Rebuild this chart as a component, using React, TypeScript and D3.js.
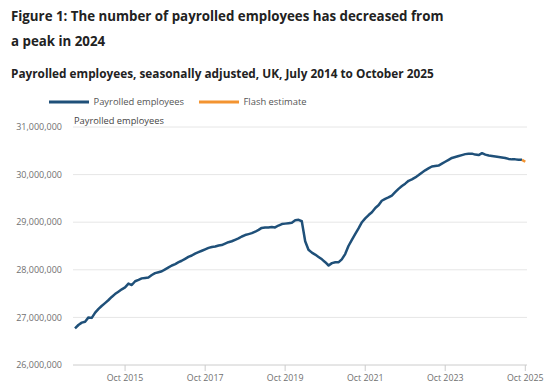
import React, { useEffect, useRef } from 'react'
import * as d3 from 'd3'

// monthly, July 2014 to October 2025 (millions)
const startMonth = new Date(2014, 6, 1)
const payrolled: number[] = [
  26.77, 26.84, 26.89, 26.91, 27.0, 26.99, // Jul-Dec 2014
  27.1, 27.18, 27.24, 27.3, 27.36, 27.43, 27.49, 27.54, 27.59, 27.63, 27.71, 27.68, // 2015
  27.76, 27.79, 27.82, 27.83, 27.84, 27.89, 27.93, 27.95, 27.97, 28.01, 28.05, 28.09, // 2016
  28.12, 28.16, 28.19, 28.23, 28.27, 28.3, 28.34, 28.37, 28.4, 28.43, 28.46, 28.48, // 2017
  28.49, 28.51, 28.52, 28.55, 28.58, 28.6, 28.63, 28.66, 28.7, 28.73, 28.75, 28.77, // 2018
  28.8, 28.84, 28.88, 28.89, 28.89, 28.9, 28.89, 28.93, 28.96, 28.97, 28.98, 28.99, // 2019
  29.04, 29.05, 29.02, 28.6, 28.42, 28.36, 28.32, 28.27, 28.22, 28.16, 28.09, 28.14, // 2020
  28.16, 28.16, 28.22, 28.33, 28.5, 28.63, 28.75, 28.87, 29.0, 29.08, 29.15, 29.21, // 2021
  29.3, 29.36, 29.45, 29.49, 29.52, 29.56, 29.63, 29.7, 29.76, 29.81, 29.87, 29.9, // 2022
  29.94, 29.99, 30.04, 30.09, 30.13, 30.17, 30.18, 30.19, 30.23, 30.27, 30.31, 30.35, // 2023
  30.37, 30.39, 30.41, 30.43, 30.44, 30.44, 30.42, 30.41, 30.45, 30.42, 30.4, 30.39, // 2024
  30.38, 30.37, 30.36, 30.35, 30.33, 30.32, 30.32, 30.31, 30.31, // Jan-Sep 2025
]
const flash: number[] = [30.31, 30.27] // Sep 2025 -> Oct 2025 flash estimate

const yTicks = [26e6, 27e6, 28e6, 29e6, 30e6, 31e6]
const xTickYears = [2015, 2017, 2019, 2021, 2023, 2025]

const blue = '#1f5079'
const orange = '#f39431'

function monthDate(i: number) {
  return d3.timeMonth.offset(startMonth, i)
}

export default function App() {
  const ref = useRef<SVGSVGElement>(null)

  useEffect(() => {
    const svg = d3.select(ref.current)
    svg.selectAll('*').remove()

    const font = '"Open Sans", sans-serif'

    // titles
    const title = svg.append('text')
      .attr('font-family', font)
      .attr('font-weight', 700)
      .attr('font-size', 13.3)
      .attr('fill', '#222')
    title.append('tspan').attr('x', 11).attr('y', 21)
      .text('Figure 1: The number of payrolled employees has decreased from')
    title.append('tspan').attr('x', 11).attr('y', 46)
      .text('a peak in 2024')

    svg.append('text')
      .attr('x', 11).attr('y', 77.5)
      .attr('font-family', font)
      .attr('font-weight', 700)
      .attr('font-size', 11.8)
      .attr('fill', '#222')
      .text('Payrolled employees, seasonally adjusted, UK, July 2014 to October 2025')

    // legend
    const legend = [
      { label: 'Payrolled employees', color: blue, x: 49 },
      { label: 'Flash estimate', color: orange, x: 199 },
    ]
    legend.forEach(d => {
      svg.append('line')
        .attr('x1', d.x).attr('x2', d.x + 40)
        .attr('y1', 102).attr('y2', 102)
        .attr('stroke', d.color).attr('stroke-width', 3)
      svg.append('text')
        .attr('x', d.x + 44.5).attr('y', 105)
        .attr('font-family', font).attr('font-size', 9.4)
        .attr('fill', '#555')
        .text(d.label)
    })

    // scales
    const x = d3.scaleTime()
      .domain([startMonth, monthDate(135)])
      .range([75, 525.3])
    const y = d3.scaleLinear()
      .domain([26e6, 31e6])
      .range([365, 127])

    // gridlines
    svg.append('g')
      .selectAll('line')
      .data(yTicks)
      .enter()
      .append('line')
      .attr('x1', 73).attr('x2', 527)
      .attr('y1', d => y(d)).attr('y2', d => y(d))
      .attr('stroke', d => (d === 26e6 ? '#cccccc' : '#e6e6e6'))
      .attr('stroke-width', 1)

    // y tick labels
    svg.append('g')
      .selectAll('text')
      .data(yTicks)
      .enter()
      .append('text')
      .attr('x', 62)
      .attr('y', d => y(d))
      .attr('dy', '0.35em')
      .attr('text-anchor', 'end')
      .attr('font-family', font).attr('font-size', 9)
      .attr('fill', '#707070')
      .text(d => d3.format(',')(d))

    svg.append('text')
      .attr('x', 74).attr('y', 124)
      .attr('font-family', font).attr('font-size', 9.3)
      .attr('fill', '#444')
      .text('Payrolled employees')

    // x axis ticks
    const xTicks = xTickYears.map(yr => new Date(yr, 9, 1))
    const xg = svg.append('g')
    xg.selectAll('line')
      .data(xTicks)
      .enter()
      .append('line')
      .attr('x1', d => x(d)).attr('x2', d => x(d))
      .attr('y1', 365).attr('y2', 371)
      .attr('stroke', '#cccccc')
    xg.selectAll('text')
      .data(xTicks)
      .enter()
      .append('text')
      .attr('x', d => x(d))
      .attr('y', 380.5)
      .attr('text-anchor', 'middle')
      .attr('font-family', font).attr('font-size', 8.8)
      .attr('fill', '#707070')
      .text(d => d3.timeFormat('%b %Y')(d))

    // lines
    const path = d3.line()
    const mainPts: [number, number][] = payrolled.map((v, i) => [x(monthDate(i)), y(v * 1e6)])
    const flashPts: [number, number][] = flash.map((v, i) => [x(monthDate(134 + i)), y(v * 1e6)])

    svg.append('path')
      .attr('d', path(mainPts))
      .attr('fill', 'none')
      .attr('stroke', blue)
      .attr('stroke-width', 2.5)
      .attr('stroke-linejoin', 'round')

    svg.append('path')
      .attr('d', path(flashPts))
      .attr('fill', 'none')
      .attr('stroke', orange)
      .attr('stroke-width', 2.5)
      .attr('stroke-linejoin', 'round')
  }, [])

  return (
    <svg ref={ref} width={550} height={392}
      style={{ position: 'absolute', left: 0, top: 0, background: '#fff' }} />
  )
}
